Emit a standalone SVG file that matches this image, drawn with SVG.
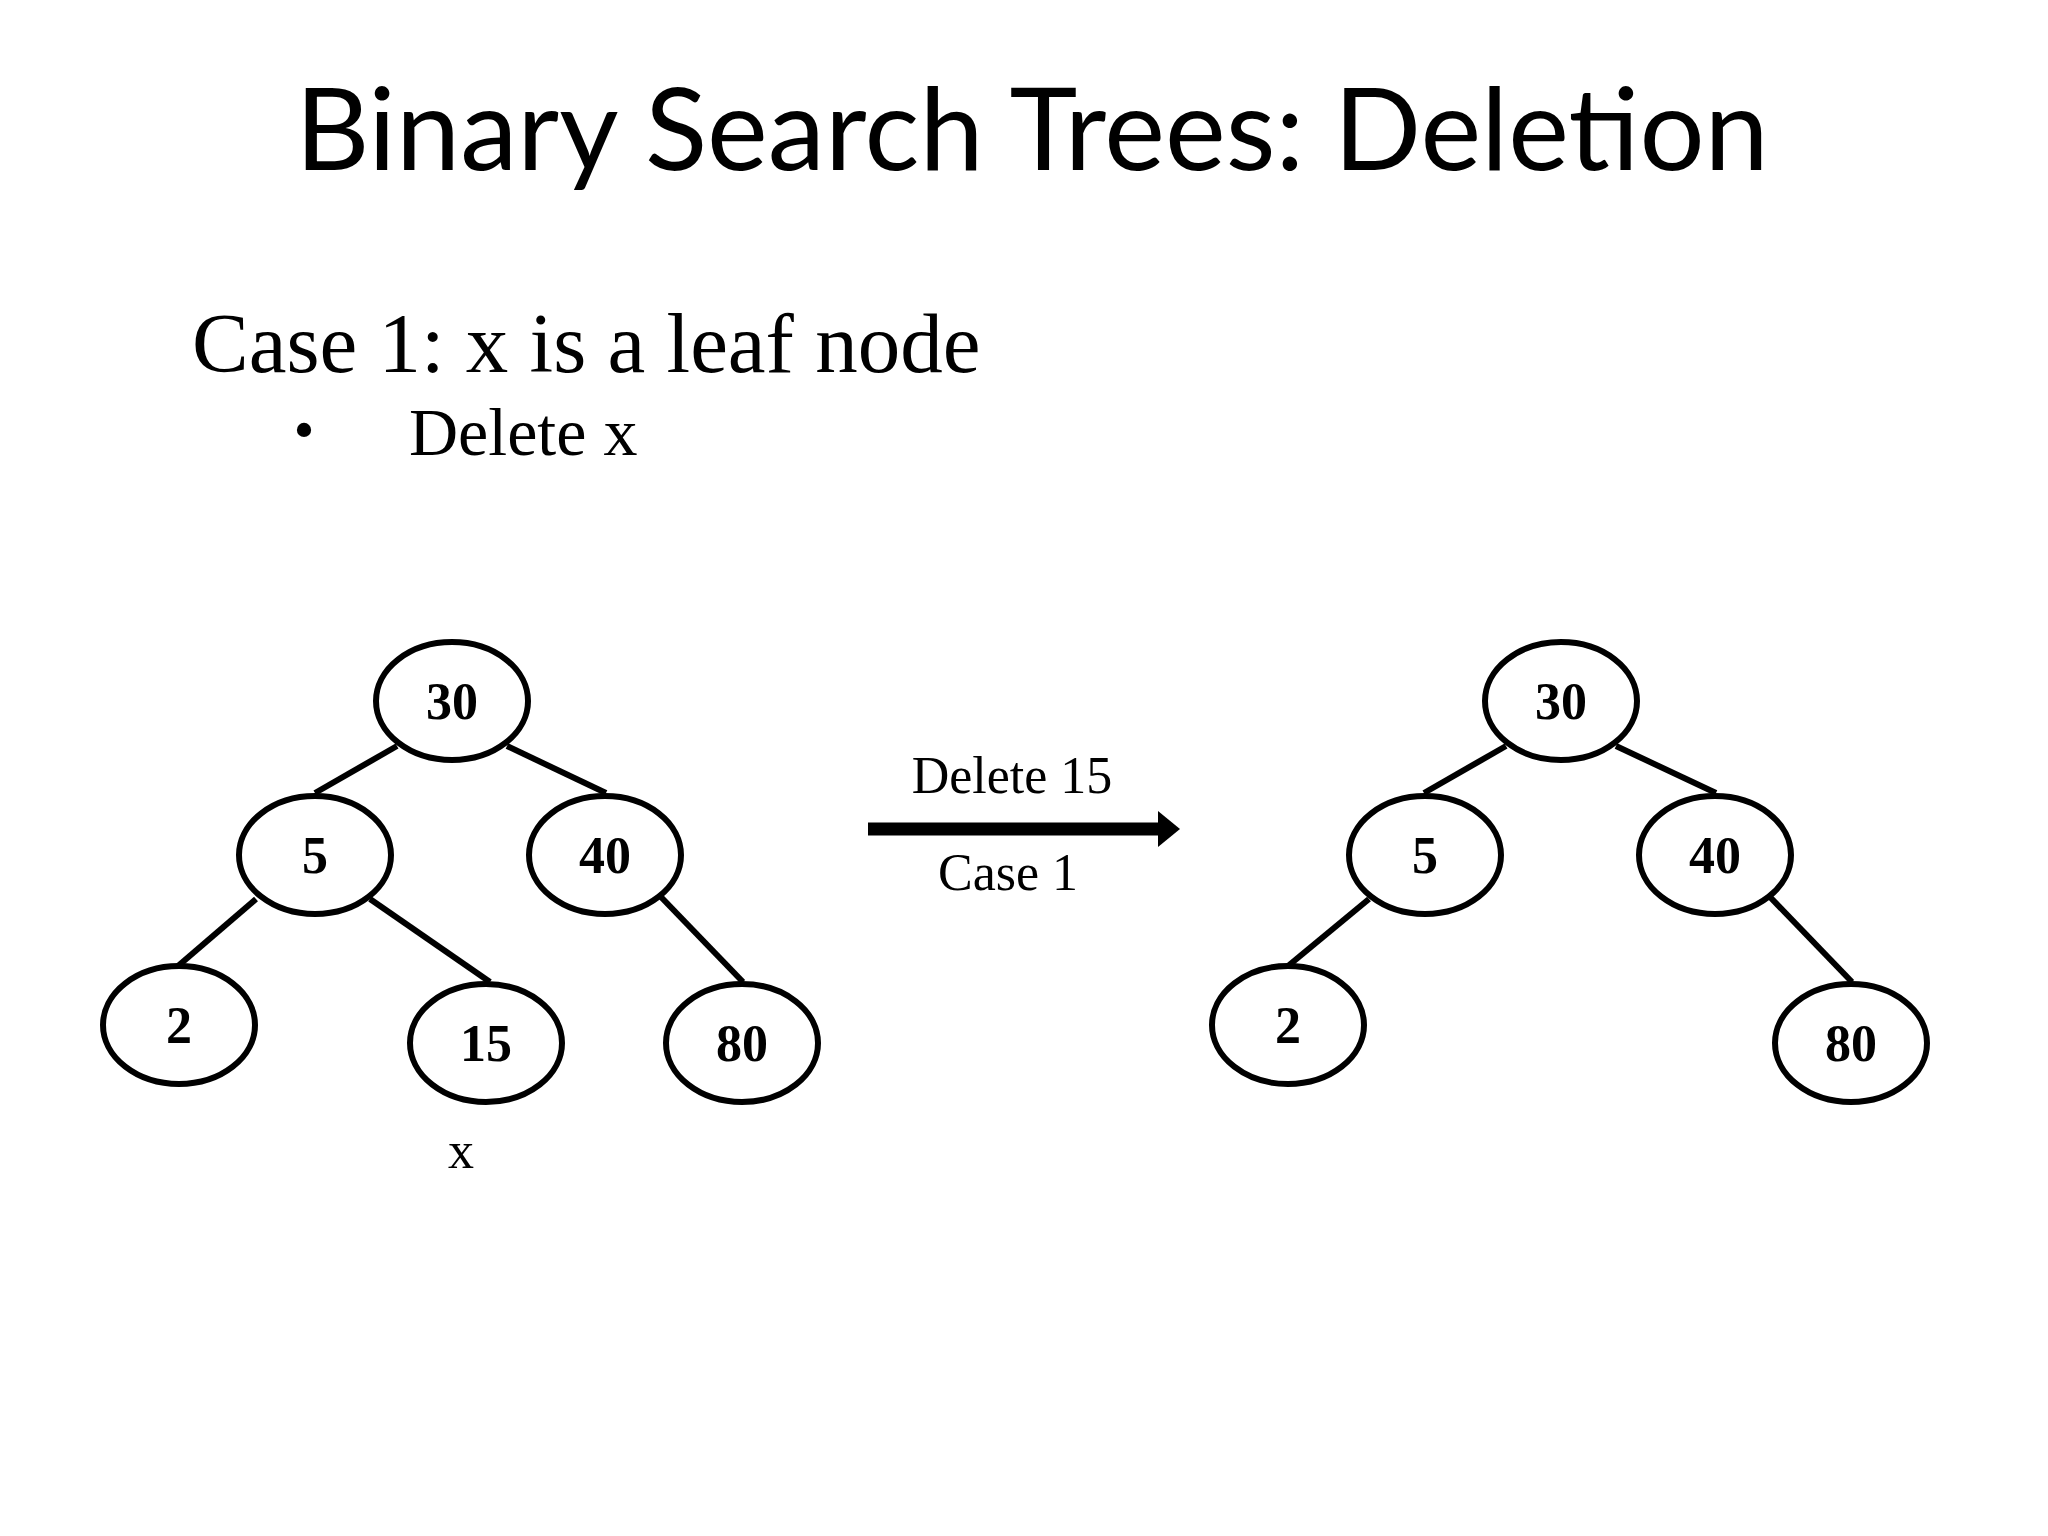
<svg xmlns="http://www.w3.org/2000/svg" width="2048" height="1536" viewBox="0 0 2048 1536">
<style>
.n ellipse{fill:#fff;stroke:#000;stroke-width:6}
.n text{font-family:"Liberation Serif",serif;font-weight:bold;font-size:52px;text-anchor:middle}
.e line{stroke:#000;stroke-width:6}
.s{font-family:"Liberation Serif",serif}
</style>
<rect width="2048" height="1536" fill="#fff"/>
<text x="1032" y="170" font-family="Lato,sans-serif" font-size="115" text-anchor="middle">Binary Search Trees: Deletion</text>
<text class="s" x="192" y="372" font-size="85">Case 1: x is a leaf node</text>
<text class="s" x="304" y="450" font-size="60" text-anchor="middle">•</text>
<text class="s" x="409" y="455" font-size="68">Delete x</text>
<g class="e" id="edges">
<line x1="397" y1="746" x2="315" y2="793"/>
<line x1="507" y1="746" x2="606" y2="793"/>
<line x1="256" y1="899" x2="178" y2="966"/>
<line x1="370" y1="899" x2="490" y2="982"/>
<line x1="661" y1="897" x2="743" y2="982"/>
<line x1="1506" y1="746" x2="1424" y2="793"/>
<line x1="1616" y1="746" x2="1716" y2="793"/>
<line x1="1369" y1="899" x2="1288" y2="966"/>
<line x1="1770" y1="897" x2="1852" y2="982"/>
<line x1="868" y1="829" x2="1162" y2="829" style="stroke-width:13"/>
<polygon points="1158,811 1180,829 1158,847" fill="#000"/>
</g>
<g class="n" id="L30"><ellipse cx="452" cy="701" rx="76" ry="59"/><text x="452" y="719">30</text></g>
<g class="n" id="L5"><ellipse cx="315" cy="855" rx="76" ry="59"/><text x="315" y="873">5</text></g>
<g class="n" id="L40"><ellipse cx="605" cy="855" rx="76" ry="59"/><text x="605" y="873">40</text></g>
<g class="n" id="L2"><ellipse cx="179" cy="1025" rx="76" ry="59"/><text x="179" y="1043">2</text></g>
<g class="n" id="L15"><ellipse cx="486" cy="1043" rx="76" ry="59"/><text x="486" y="1061">15</text></g>
<g class="n" id="L80"><ellipse cx="742" cy="1043" rx="76" ry="59"/><text x="742" y="1061">80</text></g>
<g class="n" id="R30"><ellipse cx="1561" cy="701" rx="76" ry="59"/><text x="1561" y="719">30</text></g>
<g class="n" id="R5"><ellipse cx="1425" cy="855" rx="76" ry="59"/><text x="1425" y="873">5</text></g>
<g class="n" id="R40"><ellipse cx="1715" cy="855" rx="76" ry="59"/><text x="1715" y="873">40</text></g>
<g class="n" id="R2"><ellipse cx="1288" cy="1025" rx="76" ry="59"/><text x="1288" y="1043">2</text></g>
<g class="n" id="R80"><ellipse cx="1851" cy="1043" rx="76" ry="59"/><text x="1851" y="1061">80</text></g>
<text class="s" x="461" y="1168" font-size="52" text-anchor="middle">x</text>
<text class="s" x="1012" y="793" font-size="52" text-anchor="middle">Delete 15</text>
<text class="s" x="1008" y="890" font-size="52" text-anchor="middle">Case 1</text>
</svg>
